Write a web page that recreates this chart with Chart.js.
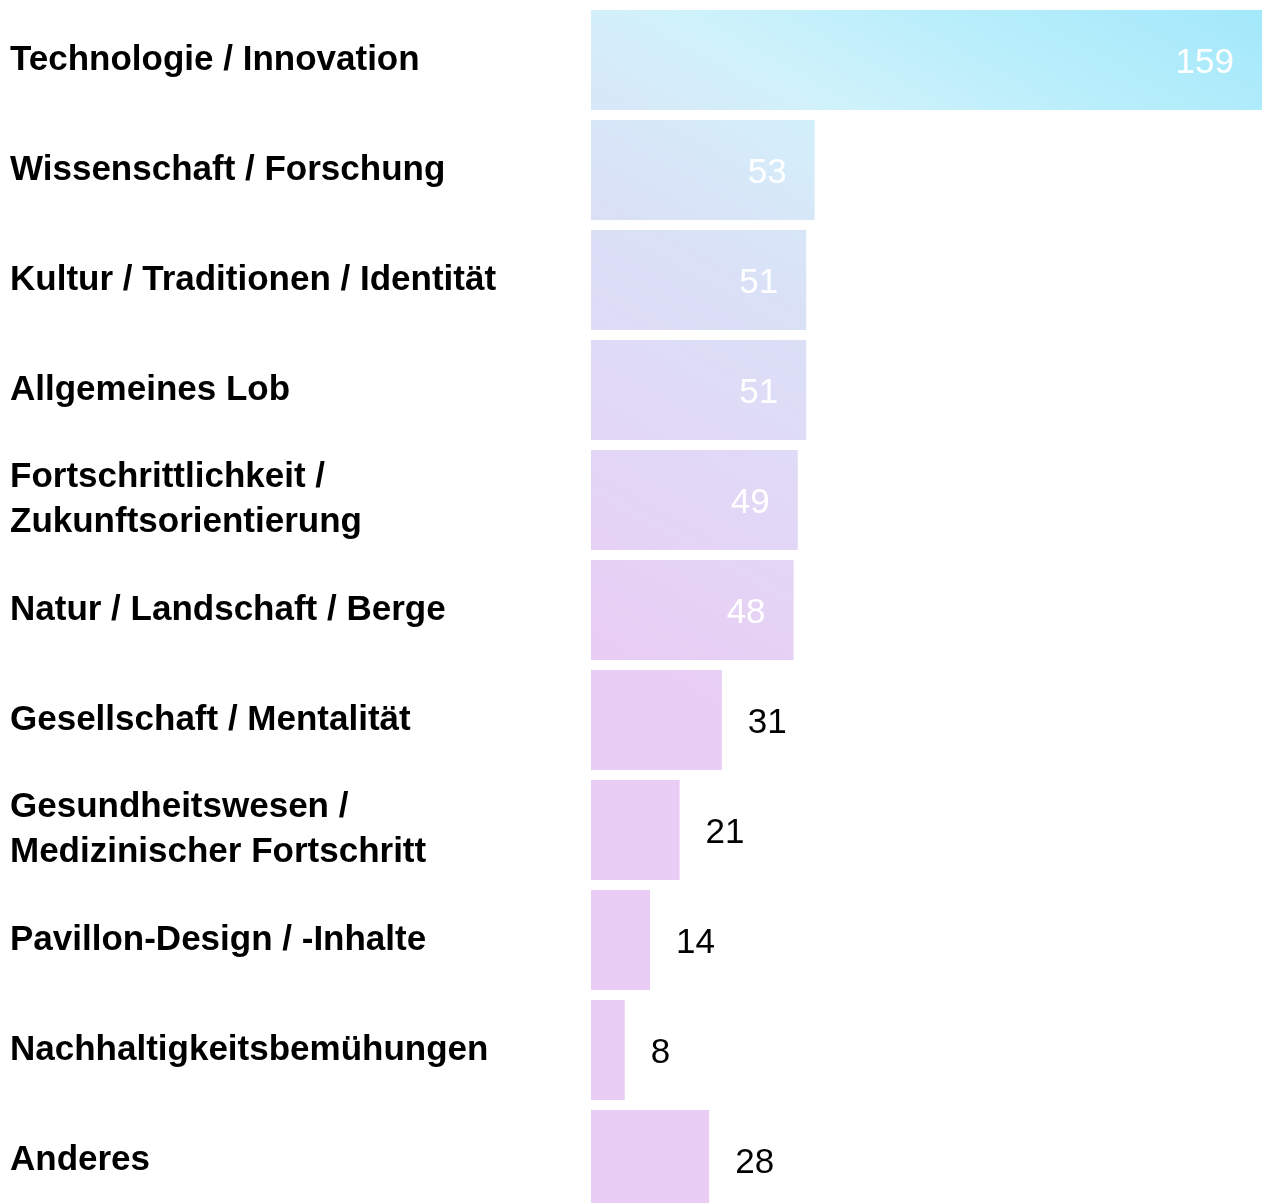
<!DOCTYPE html>
<html>
<head>
<meta charset="utf-8">
<script src="https://cdn.jsdelivr.net/npm/chart.js@4"></script>
<style>
html,body{margin:0;padding:0;background:#fff;overflow:hidden;width:1262px;height:1203px;}
#wrap{position:relative;width:1262px;height:1215px;}
</style>
</head>
<body>
<div id="wrap"><canvas id="c" width="1262" height="1215"></canvas></div>
<script>
const categories = [
  "Technologie / Innovation",
  "Wissenschaft / Forschung",
  "Kultur / Traditionen / Identität",
  "Allgemeines Lob",
  ["Fortschrittlichkeit /", "Zukunftsorientierung"],
  "Natur / Landschaft / Berge",
  "Gesellschaft / Mentalität",
  ["Gesundheitswesen /", "Medizinischer Fortschritt"],
  "Pavillon-Design / -Inhalte",
  "Nachhaltigkeitsbemühungen",
  "Anderes"
];
const values = [159, 53, 51, 51, 49, 48, 31, 21, 14, 8, 28];

function barGradient(ctx) {
  const chart = ctx.chart;
  const a = chart.chartArea;
  if (!a) return '#e9cdf4';
  const g = chart.ctx.createLinearGradient(a.left, a.bottom, a.right, a.top);
  g.addColorStop(0.00, '#e9cdf4');
  g.addColorStop(0.36, '#e9cdf4');
  g.addColorStop(0.50, '#e2d7f6');
  g.addColorStop(0.66, '#d9e2f7');
  g.addColorStop(0.73, '#d6ebf9');
  g.addColorStop(0.79, '#cff2fb');
  g.addColorStop(0.88, '#b9eefb');
  g.addColorStop(1.00, '#a2e8fb');
  return g;
}

const valueLabels = {
  id: 'valueLabels',
  afterDatasetsDraw(chart) {
    const ctx = chart.ctx;
    const meta = chart.getDatasetMeta(0);
    ctx.save();
    ctx.font = '400 35px "Liberation Sans", Arial, sans-serif';
    ctx.textBaseline = 'middle';
    meta.data.forEach((bar, i) => {
      const v = chart.data.datasets[0].data[i];
      const w = bar.x - bar.base;
      const y = bar.y + 3;
      if (w > 150) {
        ctx.fillStyle = '#ffffff';
        ctx.textAlign = 'right';
        ctx.fillText(String(v), bar.x - 28, y);
      } else {
        ctx.fillStyle = '#000000';
        ctx.textAlign = 'left';
        ctx.fillText(String(v), bar.x + 26, y);
      }
    });
    ctx.restore();
  }
};

new Chart(document.getElementById('c'), {
  type: 'bar',
  data: {
    labels: categories,
    datasets: [{
      data: values,
      backgroundColor: barGradient,
      borderWidth: 0,
      categoryPercentage: 100/110,
      barPercentage: 1
    }]
  },
  options: {
    indexAxis: 'y',
    responsive: false,
    animation: false,
    events: [],
    layout: { padding: { left: 10, right: 0, top: 5, bottom: 0 } },
    plugins: { legend: { display: false }, tooltip: { enabled: false } },
    scales: {
      x: {
        min: 0, max: 159,
        display: false
      },
      y: {
        grid: { display: false, drawTicks: false },
        border: { display: false },
        ticks: {
          crossAlign: 'far',
          color: '#000',
          padding: 0,
          font: { family: '"Liberation Sans", Arial, sans-serif', size: 35, weight: 'bold', lineHeight: 45/35 }
        },
        afterFit(scale) {
          scale.width = 581;
          scale.paddingTop = 0;
          scale.paddingBottom = 0;
        }
      }
    }
  },
  plugins: [valueLabels]
});
</script>
</body>
</html>
